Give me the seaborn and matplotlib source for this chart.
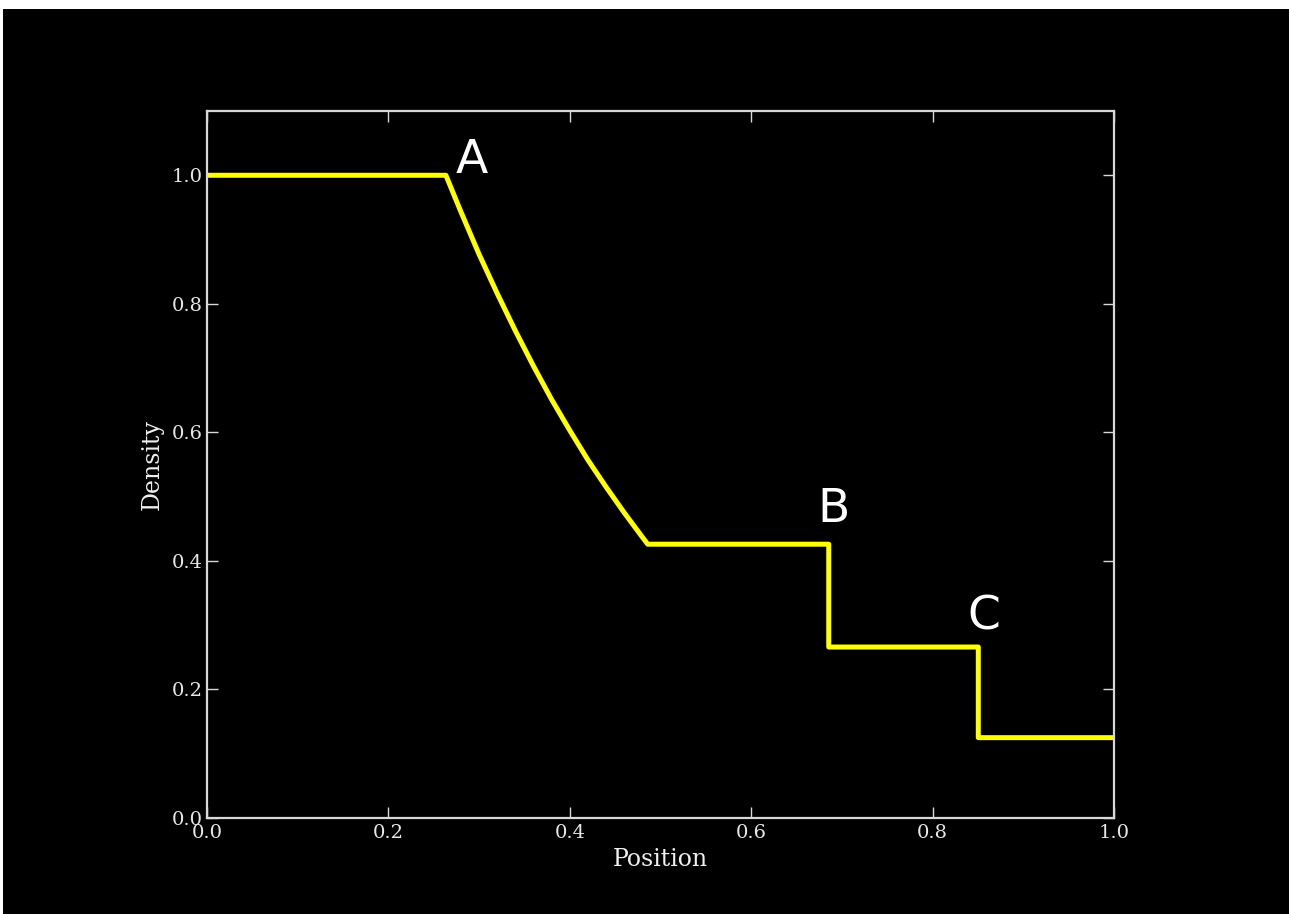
import numpy as np
import pandas as pd
import matplotlib
matplotlib.use("Agg")
import matplotlib.pyplot as plt
from matplotlib.patches import Rectangle
import seaborn as sns

# Density profile (position, density)
position = [0.0, 0.2634, 0.28, 0.30, 0.32, 0.34, 0.36, 0.38, 0.40, 0.42,
            0.44, 0.46, 0.48, 0.4859, 0.6855, 0.6855, 0.8504, 0.8504, 1.0]
density = [1.0, 1.0, 0.943, 0.877, 0.816, 0.758, 0.703, 0.651, 0.603, 0.557,
           0.515, 0.475, 0.437, 0.426, 0.426, 0.266, 0.266, 0.125, 0.125]

labels = ["A", "B", "C"]
label_x = [0.2745, 0.6725, 0.838]
label_y = [1.003, 0.460, 0.294]

xticks = [0.0, 0.2, 0.4, 0.6, 0.8, 1.0]
yticks = [0.0, 0.2, 0.4, 0.6, 0.8, 1.0]

sns.set_style("dark")
plt.rcParams["font.family"] = ["DejaVu Serif"]

df = pd.DataFrame({"Position": position, "Density": density,
                   "order": np.arange(len(position))})

fig = plt.figure(figsize=(12.89, 9.14), dpi=100)
fig.patch.set_facecolor("white")
fig.patches.append(Rectangle((3 / 1289, 0), 1, 1 - 9 / 914, transform=fig.transFigure,
                             facecolor="black", edgecolor="none", zorder=-10))
ax = fig.add_axes([207 / 1289, 1 - 818 / 914, (1114 - 207) / 1289, (818 - 111) / 914])
ax.set_facecolor("black")

sns.lineplot(data=df, x="Position", y="Density", sort=False, estimator=None,
             color="#ffff00", linewidth=3.6, ax=ax)

for t, x, y in zip(labels, label_x, label_y):
    ax.text(x, y, t, color="white", fontsize=34, family="DejaVu Sans",
            ha="left", va="baseline")

ax.set_xlim(0, 1.0)
ax.set_ylim(0, 1.1)
ax.set_xticks(xticks)
ax.set_yticks(yticks)
ax.set_xticklabels([f"{v:.1f}" for v in xticks])
ax.set_yticklabels([f"{v:.1f}" for v in yticks])
ax.grid(False)
for s in ax.spines.values():
    s.set_visible(True)
    s.set_color("#d8d8d8")
    s.set_linewidth(1.6)
ax.tick_params(axis="both", which="major", direction="in", length=8, width=1,
               color="#d8d8d8", labelcolor="#e8e8e8", labelsize=14,
               top=True, right=True, bottom=True, left=True)
ax.tick_params(axis="x", pad=4)
ax.tick_params(axis="y", pad=3)
ax.set_xlabel("Position", color="#f0f0f0", fontsize=17, labelpad=5)
ax.set_ylabel("Density", color="#f0f0f0", fontsize=17, labelpad=6)

fig.savefig("out.png", dpi=100, facecolor=fig.get_facecolor())
